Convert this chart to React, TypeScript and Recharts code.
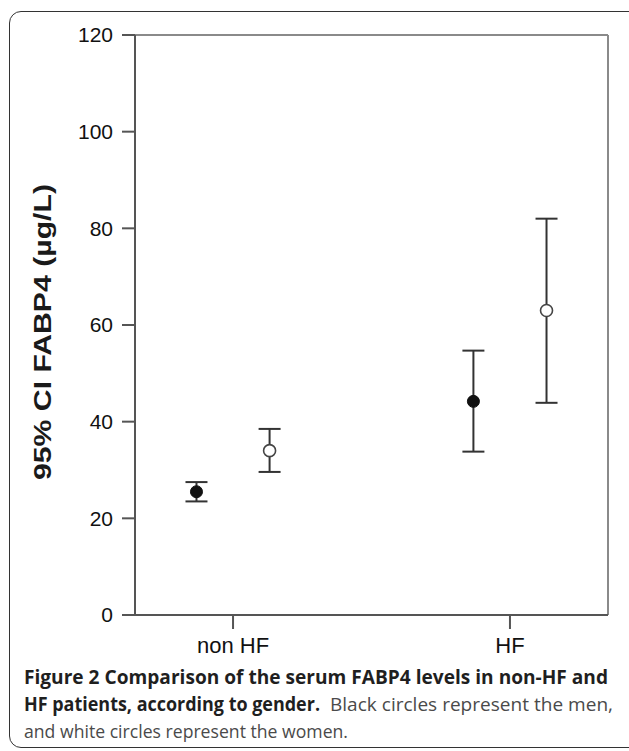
import { ScatterChart, Scatter, XAxis, YAxis, ErrorBar, ReferenceLine } from 'recharts'

// group labels along the x axis
const categories = ['non HF', 'HF']

// men (black circles): mean and 95% CI bounds, µg/L
const menMean = [25.5, 44.2]
const menLow = [23.5, 33.8]
const menHigh = [27.5, 54.7]

// women (white circles)
const womenMean = [34, 63]
const womenLow = [29.6, 43.9]
const womenHigh = [38.5, 82]

const yTicks = [0, 20, 40, 60, 80, 100, 120]

// horizontal dodge of the two genders around each category, in category units
const DODGE = 0.132
const X_PAD = 0.354

function buildSeries(mean: number[], low: number[], high: number[], dodge: number) {
  return categories.map((_, i) => ({
    x: i + 1 + dodge,
    y: mean[i],
    ci: [mean[i] - low[i], high[i] - mean[i]],
  }))
}

const menData = buildSeries(menMean, menLow, menHigh, -DODGE)
const womenData = buildSeries(womenMean, womenLow, womenHigh, DODGE)

const axisFont = '"Liberation Sans", Arial, sans-serif'
const captionFont = '"Open Sans", "Noto Sans", sans-serif'

const FilledDot = (props: any) => (
  <circle cx={props.cx} cy={props.cy} r={6} fill="#111" stroke="#111" strokeWidth={1} />
)

const OpenDot = (props: any) => (
  <circle cx={props.cx} cy={props.cy} r={6} fill="#fff" stroke="#444" strokeWidth={1.6} />
)

const YLabel = (props: any) => {
  const vb = props.viewBox || {}
  const cx = (vb.x ?? 0) + 42
  const cy = (vb.y ?? 0) + (vb.height ?? 0) / 2 + 7
  return (
    <text
      x={cx}
      y={cy}
      transform={`rotate(-90, ${cx}, ${cy})`}
      textAnchor="middle"
      dominantBaseline="central"
      fontFamily={axisFont}
      fontWeight="bold"
      fontSize={24}
      textLength={296}
      lengthAdjust="spacingAndGlyphs"
      fill="#1a1a1a"
    >
      95% CI FABP4 (µg/L)
    </text>
  )
}

export default function App() {
  return (
    <div style={{ position: 'absolute', left: 0, top: 0, width: 629, height: 751, background: '#fff', overflow: 'hidden' }}>
      <div
        style={{
          position: 'absolute',
          left: 9,
          top: 11,
          width: 640,
          height: 737,
          border: '1.5px solid #333',
          borderRadius: 12,
          boxSizing: 'border-box',
        }}
      />
      <div style={{ position: 'absolute', left: 0, top: 0 }}>
        <ScatterChart width={629} height={680} margin={{ top: 35, right: 21, bottom: 0, left: 0 }}>
          <XAxis
            type="number"
            dataKey="x"
            domain={[1 - X_PAD, categories.length + X_PAD]}
            ticks={categories.map((_, i) => i + 1)}
            tickFormatter={(v: number) => categories[Math.round(v) - 1] ?? ''}
            height={65}
            tickSize={14}
            tickMargin={8}
            stroke="#555"
            strokeWidth={2}
            tick={{ fill: '#111', fontSize: 22, fontFamily: axisFont }}
            allowDataOverflow
          />
          <YAxis
            type="number"
            dataKey="y"
            domain={[0, 120]}
            ticks={yTicks}
            width={135}
            tickSize={13}
            tickMargin={9}
            stroke="#555"
            strokeWidth={2}
            tick={{ fill: '#111', fontSize: 21, fontFamily: axisFont }}
            label={<YLabel />}
          />
          <ReferenceLine y={120} stroke="#8a8a8a" strokeWidth={2} />
          <ReferenceLine x={categories.length + X_PAD} stroke="#8a8a8a" strokeWidth={2} />
          <Scatter data={menData} shape={<FilledDot />} isAnimationActive={false}>
            <ErrorBar dataKey="ci" direction="y" width={11} stroke="#333" strokeWidth={2} isAnimationActive={false} />
          </Scatter>
          <Scatter data={womenData} shape={<OpenDot />} isAnimationActive={false}>
            <ErrorBar dataKey="ci" direction="y" width={11} stroke="#333" strokeWidth={2} isAnimationActive={false} />
          </Scatter>
        </ScatterChart>
      </div>
      <svg width={629} height={88} style={{ position: 'absolute', left: 0, top: 660 }} fontFamily={captionFont} fontSize={19}>
        <text x={24} y={24} fontWeight="bold" fill="#1f1f1f" textLength={584} lengthAdjust="spacingAndGlyphs">
          Figure 2 Comparison of the serum FABP4 levels in non-HF and
        </text>
        <text x={24} y={51} fontWeight="bold" fill="#1f1f1f" textLength={296} lengthAdjust="spacingAndGlyphs">
          HF patients, according to gender.
        </text>
        <text x={330} y={51} fill="#4a4a4a" textLength={283} lengthAdjust="spacingAndGlyphs">
          Black circles represent the men,
        </text>
        <text x={24} y={78} fill="#4a4a4a" textLength={324} lengthAdjust="spacingAndGlyphs">
          and white circles represent the women.
        </text>
      </svg>
    </div>
  )
}
